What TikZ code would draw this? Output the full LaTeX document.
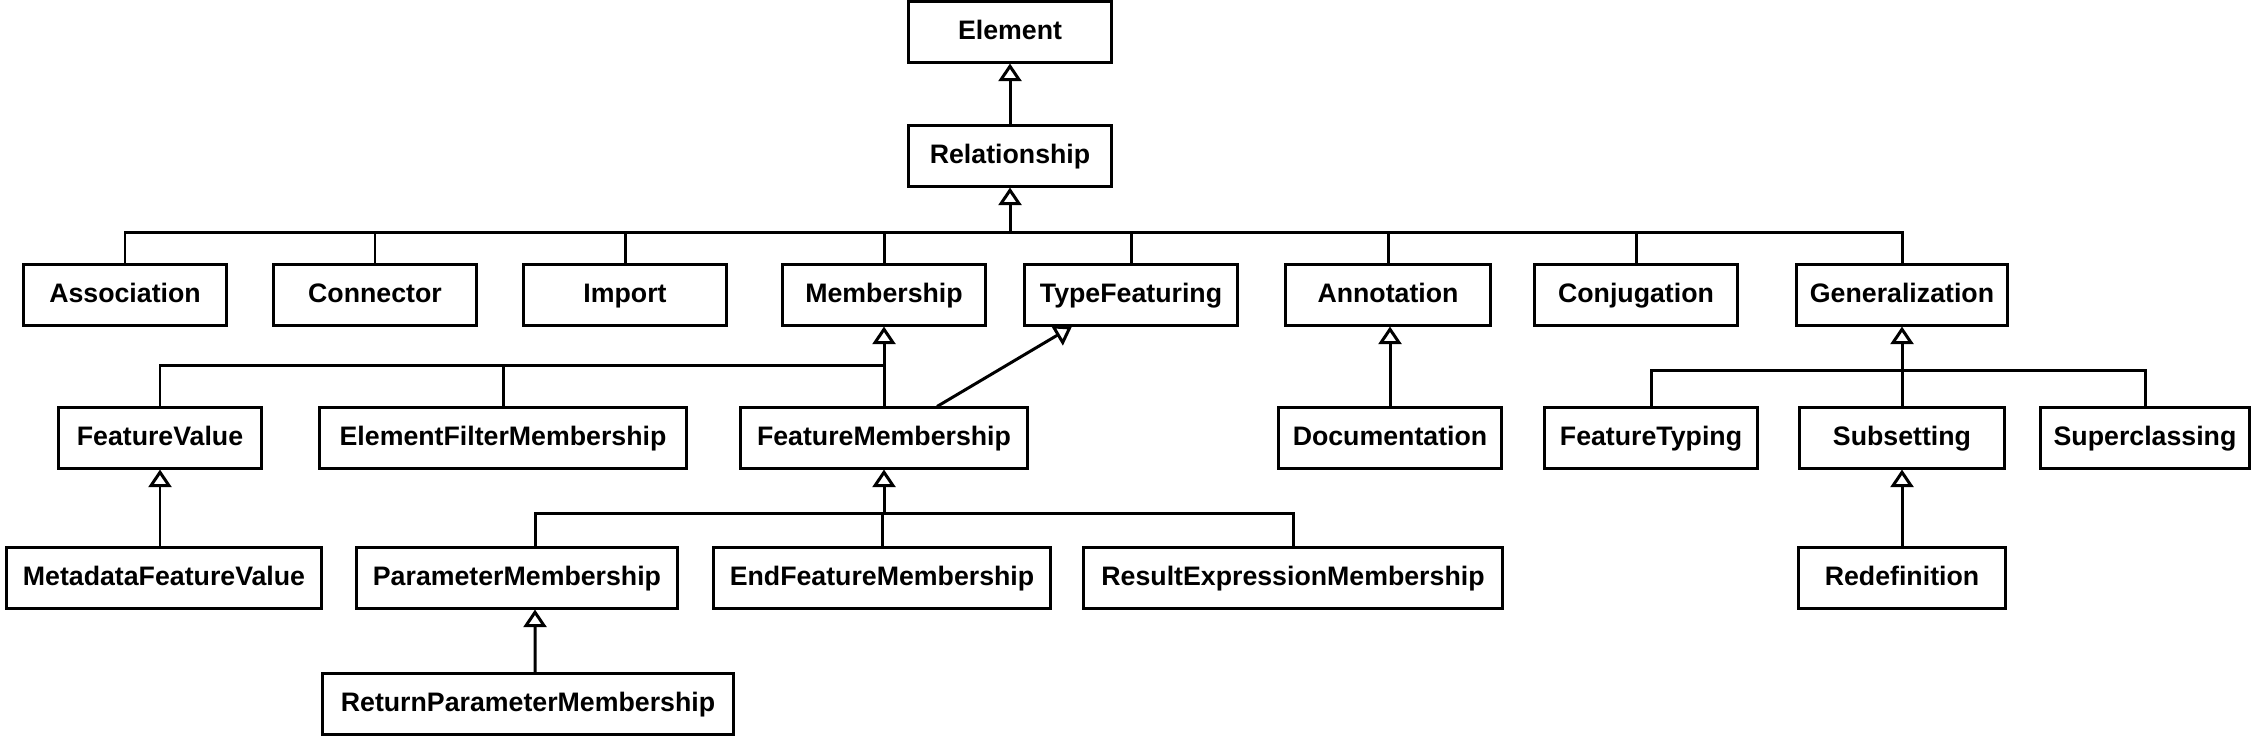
\documentclass[tikz,border=0pt]{standalone}
\usepackage{fontspec}
\setmainfont{Liberation Sans}
\usepackage{tikz}
\usetikzlibrary{arrows.meta, positioning}

\begin{document}
\begin{tikzpicture}[x=0.01cm, y=-0.01cm,
    cls/.style={draw, line width=0.85pt, minimum height=0.6cm, inner sep=0pt,
        text height=5.6pt, text depth=1.6pt,
        font=\fontsize{7.6}{9}\selectfont\bfseries},
    wire/.style={line width=0.85pt},
    inh/.style={wire, -{Triangle[open, length=5pt, width=6.5pt]}}]
\useasboundingbox (0,0) rectangle (2260,748);

% Classes: name/x/y/width/label
\foreach \name/\x/\y/\w/\txt in {
    elem/1010/32/2.03/Element,
    rel/1010/156/2.03/Relationship,
    assoc/125/295/2.03/Association,
    conn/375/295/2.02/Connector,
    imp/625/295/2.02/Import,
    memb/884/295/2.03/Membership,
    tfeat/1131/295/2.13/TypeFeaturing,
    annot/1388/295/2.04/Annotation,
    conj/1636/295/2.02/Conjugation,
    gen/1902/295/2.11/Generalization,
    fval/160/438/2.02/FeatureValue,
    efm/503/438/3.66/ElementFilterMembership,
    fmem/884/438/2.86/FeatureMembership,
    doc/1390/438/2.22/Documentation,
    ftyp/1651/438/2.13/FeatureTyping,
    subs/1902/438/2.05/Subsetting,
    supc/2145/438/2.09/Superclassing,
    mfv/164/578/3.14/MetadataFeatureValue,
    pmem/517/578/3.20/ParameterMembership,
    efmem/882/578/3.36/EndFeatureMembership,
    rem/1293/578/4.18/ResultExpressionMembership,
    redef/1902/578/2.06/Redefinition,
    rpm/528/704/4.10/ReturnParameterMembership
} {
    \node[cls, minimum width=\w cm] (\name) at (\x,\y) {\txt};
}

% bus joints
\coordinate (bus1) at (1010,232);
\coordinate (bus2) at (884,365);
\coordinate (bus3) at (1902,370);
\coordinate (bus4) at (884,513);

% Relationship and its subclasses
\draw[inh] (rel.north) -- (elem.south);
\draw[inh] (bus1) -- (rel.south);
\foreach \c in {assoc,conn,imp,memb,tfeat,annot,conj,gen}
    \draw[wire] (\c.north) |- (bus1);

% Membership branch
\draw[inh] (fmem.north) -- (memb.south);
\foreach \c in {fval,efm}
    \draw[wire] (\c.north) |- (bus2);
\draw[inh] ([xshift=5.3mm]fmem.north) -- ([xshift=-5.9mm]tfeat.south);
\draw[inh] (fval.south |- mfv.north) -- (fval.south);

% FeatureMembership subclasses
\draw[inh] (bus4) -- (fmem.south);
\draw[wire] ([xshift=1.8mm]pmem.north) |- (bus4);
\foreach \c in {efmem,rem}
    \draw[wire] (\c.north) |- (bus4);
\draw[inh] ([xshift=0.7mm]rpm.north) -- ([xshift=1.8mm]pmem.south);

% Annotation
\draw[inh] (doc.north) -- (doc.north |- annot.south);

% Generalization branch
\draw[inh] (subs.north) -- (gen.south);
\foreach \c in {ftyp,supc}
    \draw[wire] (\c.north) |- (bus3);
\draw[inh] (redef.north) -- (subs.south);
\end{tikzpicture}
\end{document}
